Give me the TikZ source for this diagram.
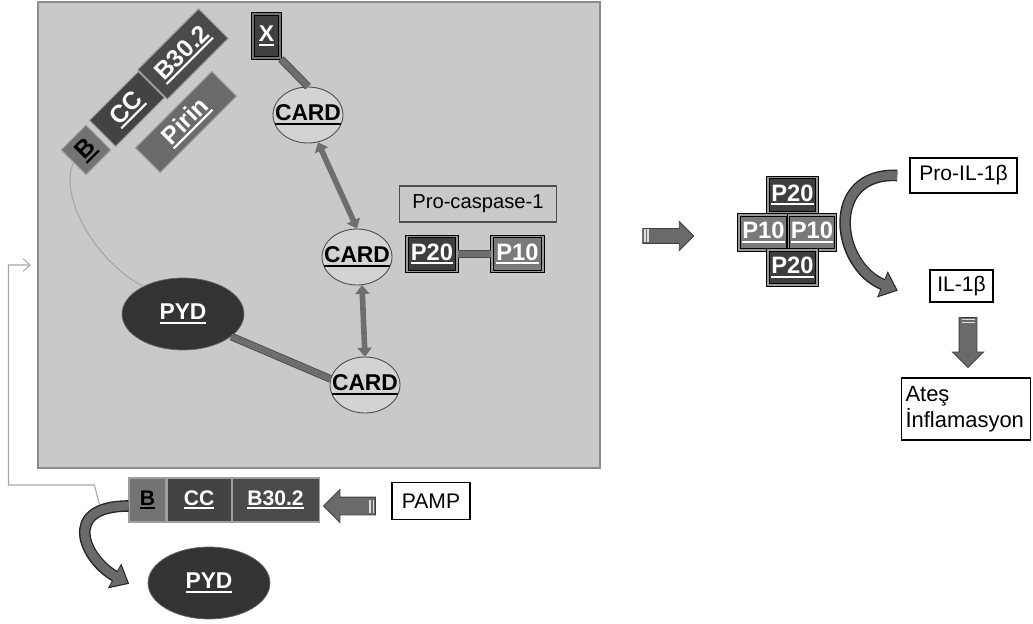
\documentclass[tikz,border=0pt]{standalone}
\usepackage{fontspec}
\setmainfont{Liberation Sans}
\usetikzlibrary{positioning,shapes.geometric,shapes.arrows,arrows.meta,calc}

\definecolor{panelgray}{HTML}{C9C9C9}
\definecolor{panelline}{HTML}{8C8C8C}
\definecolor{domB}{HTML}{737373}
\definecolor{domCC}{HTML}{434343}
\definecolor{domB30}{HTML}{4A4A4A}
\definecolor{pirin}{HTML}{6B6B6B}
\definecolor{cardgray}{HTML}{D3D3D3}
\definecolor{pydgray}{HTML}{333333}
\definecolor{bargray}{HTML}{6E6E6E}
\definecolor{arrgray}{HTML}{6A6A6A}
\definecolor{p20gray}{HTML}{3E3E3E}
\definecolor{p10gray}{HTML}{7A7A7A}

\newcommand{\undl}[1]{\leavevmode\setbox0=\hbox{#1}\rlap{\rule[-2.4pt]{\wd0}{1.2pt}}\box0}

\begin{document}
\begin{tikzpicture}[
    x=0.02cm, y=-0.02cm,
    panel/.style={draw=panelline, fill=panelgray, line width=1.6pt},
    dom/.style={rectangle, draw=gray!75, line width=0.6pt, text=white, inner sep=0pt, rotate=45, font=\bfseries\fontsize{14}{14}\selectfont},
    row/.style={rectangle, draw=gray!75, line width=0.6pt, text=white, inner sep=0pt, minimum height=0.88cm, font=\bfseries\fontsize{12}{12}\selectfont},
    xbox/.style={rectangle, fill=black!75, draw=black, line width=1.1pt, double=black!55, double distance=0.6pt, text=white, inner sep=0pt, font=\bfseries\fontsize{13}{13}\selectfont},
    card/.style={ellipse, draw=black!70, fill=cardgray, line width=0.5pt, inner sep=0pt, minimum width=1.4cm, minimum height=1.12cm},
    cardtxt/.style={inner sep=0pt, text=black, font=\bfseries\fontsize{13}{13}\selectfont},
    pyd/.style={ellipse, draw=black!60, fill=pydgray, text=white, minimum width=2.44cm, minimum height=1.44cm, font=\bfseries\fontsize{13}{13}\selectfont},
    pbox/.style={rectangle, draw=black, line width=0.7pt, double=gray!80, double distance=0.7pt, text=white, inner sep=0pt, minimum height=0.7cm, font=\bfseries\fontsize{13.5}{13.5}\selectfont},
    lbl/.style={rectangle, draw=black!70, line width=0.6pt, inner sep=0pt, font=\fontsize{11.5}{11.5}\selectfont},
    wbox/.style={rectangle, draw=black, fill=white, line width=0.9pt, inner sep=0pt, font=\fontsize{12}{12}\selectfont},
    blk/.style={single arrow, draw=black!75, fill=arrgray, line width=0.5pt, single arrow head indent=0pt},
    stripe/.style={draw=gray!25, line width=0.8pt},
    bar/.style={draw=bargray, line width=3.4pt, preaction={draw=black!70, line width=4.4pt}},
    dbl/.style={draw=bargray, line width=3.2pt, {Triangle[length=5pt,width=8pt]}-{Triangle[length=5pt,width=8pt]}},
    curvy/.style={draw=arrgray, line width=5pt, -{Triangle[length=8pt,width=13pt]},
        preaction={draw=black!85, line width=6.6pt, -{Triangle[length=9.5pt,width=15.5pt]}, shorten >=-1pt}},
    link/.style={draw=gray!70, line width=0.6pt}
]
\useasboundingbox (0,0) rectangle (1033,624);

% inflammasome panel
\draw[panel] (38,2) rectangle (600,468);

% tilted pyrin domains
\node[dom, fill=domB, text=black, minimum width=0.7cm, minimum height=0.7cm] (bR) at (86,150) {\undl{B}};
\node[dom, fill=domCC, minimum width=1.38cm, minimum height=0.74cm] (ccR) at (127,109) {\undl{CC}};
\node[dom, fill=domB30, minimum width=1.72cm, minimum height=0.84cm] (b30R) at (183,54) {\undl{B30.2}};
\node[dom, fill=pirin, minimum width=2.16cm, minimum height=0.7cm] (pirin) at (186,122) {\undl{Pirin}};

\node[xbox, minimum width=0.54cm, minimum height=0.88cm] (xb) at (266.5,36) {\undl{X}};

\node[card, label={[cardtxt]center:\undl{CARD}}] (card1) at (308,115) {};
\node[card, label={[cardtxt]center:\undl{CARD}}] (card2) at (357,257) {};
\node[card, label={[cardtxt]center:\undl{CARD}}] (card3) at (365,385) {};
\node[pyd] (pyd1) at (183,314) {\undl{PYD}};

\node[lbl, minimum width=3.14cm, minimum height=0.72cm] (procasp) at (478,204) {Pro-caspase-1};
\node[pbox, fill=p20gray, minimum width=1.0cm] (p20a) at (432,254) {\undl{P20}};
\node[pbox, fill=p10gray, minimum width=1.02cm] (p10a) at (517.5,254) {\undl{P10}};

\draw[bar] (xb.south east) -- (card1.north);
\draw[dbl] (card1.-70) -- (card2.north);
\draw[dbl] (card2.-80) -- (card3.north);
\draw[bar] (pyd1.-25) -- (card3.170);
\draw[bar] (p20a.east) -- (p10a.west);
\draw[link] (bR.west) .. controls (58,200) and (100,265) .. (pyd1.145);
\draw[link, draw=gray!45] (bR.south) .. controls (108,175) .. (110,195);

% active caspase-1
\node[blk, single arrow head extend=0.14cm, inner sep=0.14cm, minimum height=1.02cm] (ar1) at (664.5,236) {};
\node[pbox, fill=p20gray, minimum width=0.98cm] (p20t) at (792.5,195) {\undl{P20}};
\node[pbox, fill=p10gray, minimum width=0.98cm] (p10l) at (763.5,232.5) {\undl{P10}};
\node[pbox, fill=p10gray, minimum width=0.94cm] (p10r) at (812,232.5) {\undl{P10}};
\node[pbox, fill=p20gray, minimum width=0.98cm] (p20b) at (792.5,267.5) {\undl{P20}};

\node[wbox, minimum width=2.14cm, minimum height=0.7cm] (proil) at (963.5,175.5) {Pro-IL-1β};
\node[wbox, minimum width=1.26cm, minimum height=0.64cm] (il) at (961.5,286) {IL-1β};
\node[blk, shape border rotate=270, single arrow head extend=0.13cm, inner sep=0.17cm, minimum height=1.0cm] (ar3) at (968,338) {};
\node[wbox, minimum width=2.58cm, minimum height=1.24cm, inner xsep=0.06cm, text width=2.42cm, align=left, font=\fontsize{12.5}{15}\selectfont] (ates) at (966,409) {Ateş\\İnflamasyon};

\draw[curvy] ($(proil.west)+(-12,0)$) .. controls (825,172) and (835,265) .. ($(il.west)+(-33,4)$);

% pyrin before activation
\node[row, fill=domB, text=black, minimum width=0.74cm] (bB) at (147.5,500) {\undl{B}};
\node[row, fill=domCC, minimum width=1.28cm, right=0pt of bB] (ccB) {\undl{CC}};
\node[row, fill=domB30, minimum width=1.74cm, right=0pt of ccB] (b30B) {\undl{B30.2}};
\node[blk, shape border rotate=180, single arrow head extend=0.15cm, inner sep=0.17cm, minimum height=1.04cm] (ar2) at (354,506) {};
\node[wbox, minimum width=1.56cm, minimum height=0.74cm] (pamp) at (431,501) {PAMP};
\node[pyd] (pyd2) at (209,583) {\undl{PYD}};

\draw[curvy] ($(bB.west)+(0,6)$) .. controls (60,506) and (85,560) .. ($(pyd2.west)+(-20,0)$);

\coordinate (lk) at ($(bB.west)+(-29,5)$);
\coordinate (panelW) at (31,265);
\draw[link, -{Straight Barb[length=4pt,width=7pt]}] (lk) -- ++(-5,-20) -- ++(-86,0) |- (panelW);

% striped tails
\foreach \a in {ar1,ar2,ar3} {
  \foreach \f in {0.05,0.11} {
    \path ($(\a.tail)!\f!(\a.tip)$) coordinate (s);
    \draw[stripe] ($(s)!0.13cm!90:(\a.tip)$) -- ($(s)!0.13cm!-90:(\a.tip)$);
  }
}
\end{tikzpicture}
\end{document}
